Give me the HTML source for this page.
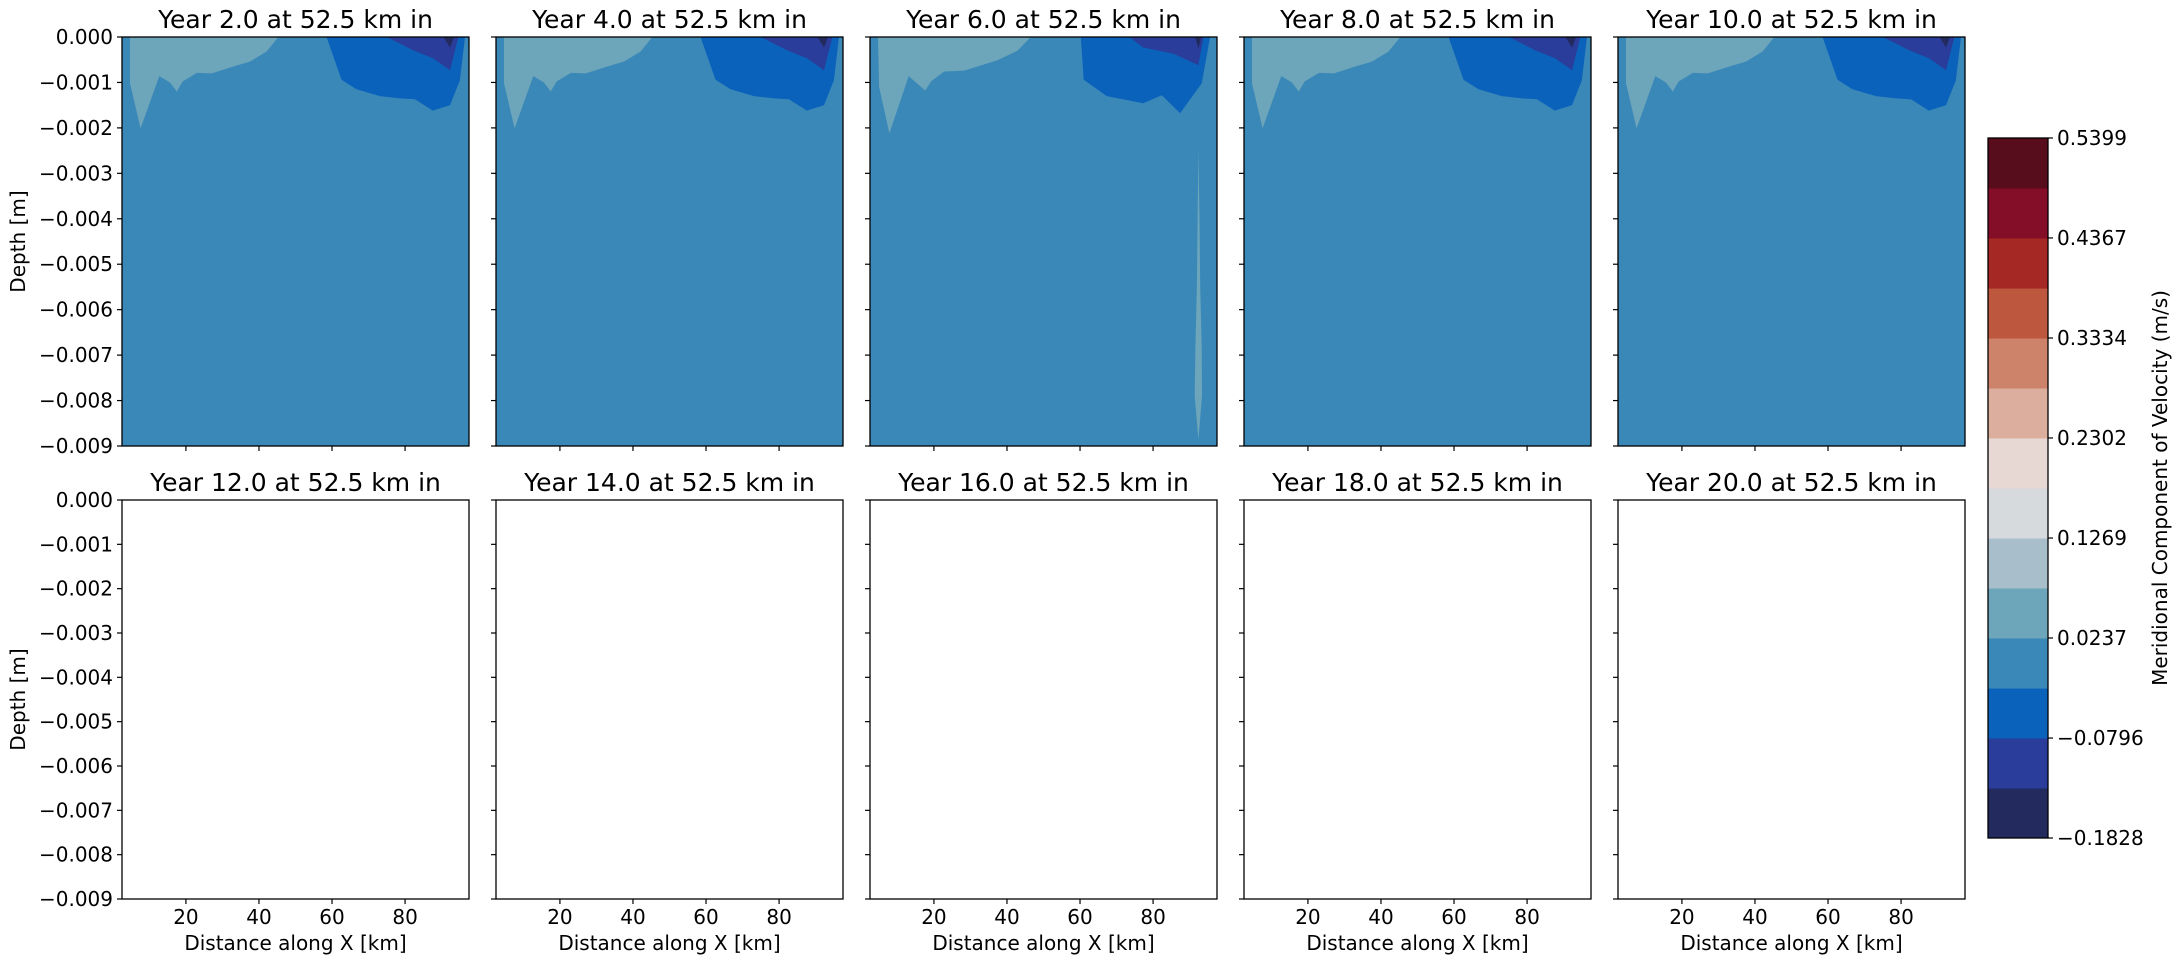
<!DOCTYPE html>
<html><head><meta charset="utf-8"><style>
html,body{margin:0;padding:0;background:#fff;}
svg{display:block;font-family:"DejaVu Sans","Liberation Sans",sans-serif;}
</style></head><body>
<svg id="chart" width="2183" height="975" viewBox="0 0 2183 975" xmlns="http://www.w3.org/2000/svg"></svg>
<script>
// ---- data ----
const years = [2,4,6,8,10,12,14,16,18,20];
const xTicks = [20,40,60,80];
const yTicks = [0,-0.001,-0.002,-0.003,-0.004,-0.005,-0.006,-0.007,-0.008,-0.009];
const cbLevels = [-0.1828,-0.1312,-0.0796,-0.0280,0.0237,0.0753,0.1269,0.1785,0.2302,0.2818,0.3334,0.3850,0.4367,0.4883,0.5399];
const cbTicks = [-0.1828,-0.0796,0.0237,0.1269,0.2302,0.3334,0.4367,0.5399];
const cbColors = ["#222a5e","#2a3d9a","#0b62bb","#3a88b8","#6da5ba","#a8bfcb","#d6dadc","#e8d8d4","#dcae9e","#cd836a","#bd573d","#a62824","#840e27","#570d1c"];
// contour regions (km, depth m)
const lightA = [[2.5,0],[4.7,0],[4.7,-0.00102],[7.6,-0.00201],[12.7,-0.00086],[15.6,-0.001],[17.5,-0.0012],[19.1,-0.00098],[23.0,-0.00079],[27.1,-0.0008],[33.0,-0.00065],[37.6,-0.00054],[42.1,-0.00032],[45.3,0]];
const blueA = [[58.5,0],[62.6,-0.00094],[66.7,-0.00115],[73.1,-0.0013],[78.6,-0.00135],[82.7,-0.00137],[87.6,-0.00162],[92.3,-0.0015],[95.0,-0.00095],[96.4,0]];
const dblueA = [[75.0,0],[82.2,-0.00029],[87.7,-0.00047],[92.3,-0.00073],[94.6,0]];
const darkA = [[90.5,0],[92.3,-0.00023],[93.4,0]];
const lightB = [[2.5,0],[4.7,0],[5.0,-0.0011],[7.8,-0.00212],[13.1,-0.00086],[17.6,-0.00118],[19.2,-0.00098],[22.8,-0.00076],[28.3,-0.00074],[37.4,-0.00051],[42.9,-0.0003],[46.5,0]];
const blueB = [[60.2,0],[61.0,-0.00094],[67.3,-0.0013],[77.3,-0.00146],[82.4,-0.00128],[87.4,-0.00168],[93.3,-0.00102],[95.6,0]];
const dblueB = [[73.5,0],[77.3,-0.00023],[85.6,-0.00037],[92.4,-0.00062],[93.8,0]];
const darkB = [[91.5,0],[92.4,-0.00025],[93.2,0]];
const sliverB = [[92.4,-0.00245],[92.7,-0.004],[92.9,-0.0055],[93.3,-0.0068],[93.4,-0.0079],[92.4,-0.00887],[91.4,-0.0079],[91.6,-0.0068],[92.0,-0.0055],[92.2,-0.004]];

const NS="http://www.w3.org/2000/svg";
const svg=document.getElementById('chart');
function mk(tag,attrs,parent){const e=document.createElementNS(NS,tag);for(const k in attrs)e.setAttribute(k,attrs[k]);(parent||svg).appendChild(e);return e;}
const colX=[122,496,870,1244,1618], W=347;
const rowY=[[37,446],[500,899]];
const xMin=2.5,xMax=97.5,yMin=-0.009,yMax=0;

years.forEach((yr,i)=>{
  const c=i%5,r=Math.floor(i/5);
  const x0=colX[c],y0=rowY[r][0],y1=rowY[r][1],H=y1-y0;
  const sx=v=>x0+(v-xMin)/(xMax-xMin)*W;
  const sy=v=>y0+(yMax-v)/(yMax-yMin)*H;
  const g=mk('g',{});
  
  
  const t=mk('text',{x:x0+W/2,y:y0-9,'text-anchor':'middle','font-size':25,fill:'#000'},g);
  t.textContent='Year '+yr.toFixed(1)+' at 52.5 km in';
  
  
  if(r===0){
    const bg=mk('rect',{x:x0,y:y0,width:W,height:H,fill:cbColors[3]},g);
    
    
    const set = (c===2)?[[lightB,4],[blueB,2],[dblueB,1],[darkB,0],[sliverB,4]]:[[lightA,4],[blueA,2],[dblueA,1],[darkA,0]];
    set.forEach(([poly,ci])=>{
      const p=mk('polygon',{points:poly.map(q=>sx(q[0]).toFixed(1)+','+sy(q[1]).toFixed(1)).join(' '),fill:cbColors[ci]},g);
      
      
    });
  }
  const fr=mk('rect',{x:x0,y:y0,width:W,height:H,fill:'none',stroke:'#000','stroke-width':1.3},g);
  
  
  yTicks.forEach(v=>{
    const yy=sy(v);
    mk('line',{x1:x0-5,x2:x0,y1:yy,y2:yy,stroke:'#000','stroke-width':1.2},g);
    if(c===0){
      const tl=mk('text',{x:x0-9,y:yy+7,'text-anchor':'end','font-size':20},g);
      tl.textContent=(v===0?'0.000':'\u2212'+Math.abs(v).toFixed(3));
      
      
    }
  });
  xTicks.forEach(v=>{
    const xx=sx(v);
    mk('line',{x1:xx,x2:xx,y1:y1,y2:y1+5,stroke:'#000','stroke-width':1.2},g);
    if(r===1){
      const tl=mk('text',{x:xx,y:y1+25,'text-anchor':'middle','font-size':20},g);
      tl.textContent=v;
      
      
    }
  });
  if(r===1){
    const xl=mk('text',{x:x0+W/2,y:y1+51,'text-anchor':'middle','font-size':20},g);
    xl.textContent='Distance along X [km]';
    
    
  }
  if(c===0){
    const yl=mk('text',{x:0,y:0,'text-anchor':'middle','font-size':20,transform:'translate(25,'+(y0+H/2)+') rotate(-90)'},g);
    yl.textContent='Depth [m]';
    
    
  }
});

// colorbar
const cbx=1988,cbw=60,cbTop=138,cbBot=838;
const cby=v=>cbBot-(v-cbLevels[0])/(cbLevels[cbLevels.length-1]-cbLevels[0])*(cbBot-cbTop);
const cg=mk('g',{});


cbColors.forEach((col,i)=>{
  const a=cby(cbLevels[i]),b=cby(cbLevels[i+1]);
  const rr=mk('rect',{x:cbx,y:b,width:cbw,height:a-b+0.5,fill:col},cg);
  
  
});
mk('rect',{x:cbx,y:cbTop,width:cbw,height:cbBot-cbTop,fill:'none',stroke:'#000','stroke-width':1.3},cg);
cbTicks.forEach(v=>{
  const yy=cby(v);
  mk('line',{x1:cbx+cbw,x2:cbx+cbw+5,y1:yy,y2:yy,stroke:'#000','stroke-width':1.2},cg);
  const tl=mk('text',{x:cbx+cbw+9,y:yy+7,'font-size':20},cg);
  tl.textContent=(v<0?'\u2212':'')+Math.abs(v).toFixed(4);
  
  
});
const ct=mk('text',{x:0,y:0,'text-anchor':'middle','font-size':20,transform:'translate(2167,'+((cbTop+cbBot)/2)+') rotate(-90)'},cg);
ct.textContent='Meridional Component of Velocity (m/s)';


</script>
</body></html>
